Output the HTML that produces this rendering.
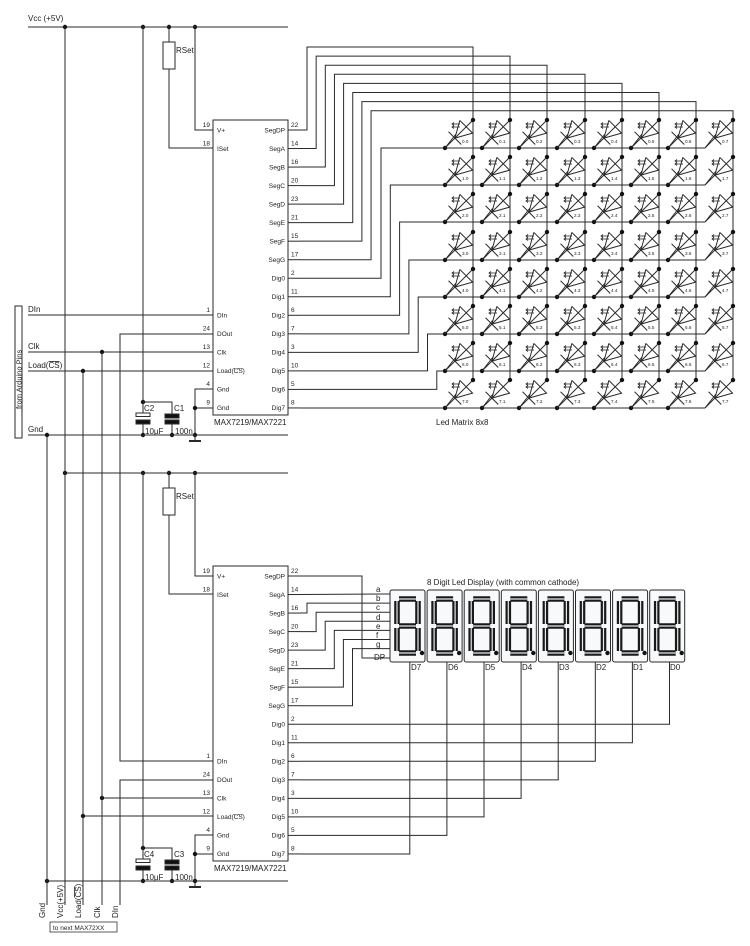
<!DOCTYPE html>
<html><head><meta charset="utf-8"><style>
html,body{margin:0;padding:0;background:#fff}
svg{display:block}
text{font-family:"Liberation Sans",sans-serif;fill:#222}
.s{font-size:6.5px}.m{font-size:8px}.t{font-size:4.6px}
</style></head><body>
<svg id="s" width="750" height="946" viewBox="0 0 750 946">
<rect width="750" height="946" fill="#fff"/>
<g id="geo" stroke="#2a2a2a" stroke-width="1" fill="none"></g>

<text class="m" x="28" y="21">Vcc (+5V)</text>
<text class="m" x="28" y="312">DIn</text>
<text class="m" x="28" y="349">Clk</text>
<text class="m" x="28" y="368">Load(<tspan text-decoration="overline">CS</tspan>)</text>
<text class="m" x="28" y="432">Gnd</text>
<text style="font-size:7.5px" transform="translate(21.5,409) rotate(-90)">from Arduino Pins</text>

<g id="chip">
<text class="m" x="176" y="53">RSet</text>
<g class="s">
<text x="217" y="132.5">V+</text><text x="217" y="151">ISet</text><text x="217" y="317.5">DIn</text><text x="217" y="336">DOut</text><text x="217" y="354.5">Clk</text><text x="217" y="373">Load(<tspan text-decoration="overline">CS</tspan>)</text><text x="217" y="391.5">Gnd</text><text x="217" y="410">Gnd</text>
<g text-anchor="end">
<text x="210" y="127">19</text><text x="210" y="145.5">18</text><text x="210" y="312">1</text><text x="210" y="330.5">24</text><text x="210" y="349">13</text><text x="210" y="367.5">12</text><text x="210" y="386">4</text><text x="210" y="404.5">9</text>
<text x="285" y="132.5">SegDP</text><text x="285" y="151">SegA</text><text x="285" y="169.5">SegB</text><text x="285" y="188">SegC</text><text x="285" y="206.5">SegD</text><text x="285" y="225">SegE</text><text x="285" y="243.5">SegF</text><text x="285" y="262">SegG</text><text x="285" y="280.5">Dig0</text><text x="285" y="299">Dig1</text><text x="285" y="317.5">Dig2</text><text x="285" y="336">Dig3</text><text x="285" y="354.5">Dig4</text><text x="285" y="373">Dig5</text><text x="285" y="391.5">Dig6</text><text x="285" y="410">Dig7</text>
</g>
<text x="291" y="127">22</text><text x="291" y="145.5">14</text><text x="291" y="164">16</text><text x="291" y="182.5">20</text><text x="291" y="201">23</text><text x="291" y="219.5">21</text><text x="291" y="238">15</text><text x="291" y="256.5">17</text><text x="291" y="275">2</text><text x="291" y="293.5">11</text><text x="291" y="312">6</text><text x="291" y="330.5">7</text><text x="291" y="349">3</text><text x="291" y="367.5">10</text><text x="291" y="386">5</text><text x="291" y="404.5">8</text>
</g>
<text class="m" x="214" y="425">MAX7219/MAX7221</text>
<text class="m" x="175" y="434">100n</text>
<text class="m" x="145" y="434">10µF</text>
</g>
<text class="m" x="144" y="411">C2</text><text class="m" x="174" y="411">C1</text>
<g transform="translate(0,446)">
<text class="m" x="176" y="53">RSet</text>
<g class="s">
<text x="217" y="132.5">V+</text><text x="217" y="151">ISet</text><text x="217" y="317.5">DIn</text><text x="217" y="336">DOut</text><text x="217" y="354.5">Clk</text><text x="217" y="373">Load(<tspan text-decoration="overline">CS</tspan>)</text><text x="217" y="391.5">Gnd</text><text x="217" y="410">Gnd</text>
<g text-anchor="end">
<text x="210" y="127">19</text><text x="210" y="145.5">18</text><text x="210" y="312">1</text><text x="210" y="330.5">24</text><text x="210" y="349">13</text><text x="210" y="367.5">12</text><text x="210" y="386">4</text><text x="210" y="404.5">9</text>
<text x="285" y="132.5">SegDP</text><text x="285" y="151">SegA</text><text x="285" y="169.5">SegB</text><text x="285" y="188">SegC</text><text x="285" y="206.5">SegD</text><text x="285" y="225">SegE</text><text x="285" y="243.5">SegF</text><text x="285" y="262">SegG</text><text x="285" y="280.5">Dig0</text><text x="285" y="299">Dig1</text><text x="285" y="317.5">Dig2</text><text x="285" y="336">Dig3</text><text x="285" y="354.5">Dig4</text><text x="285" y="373">Dig5</text><text x="285" y="391.5">Dig6</text><text x="285" y="410">Dig7</text>
</g>
<text x="291" y="127">22</text><text x="291" y="145.5">14</text><text x="291" y="164">16</text><text x="291" y="182.5">20</text><text x="291" y="201">23</text><text x="291" y="219.5">21</text><text x="291" y="238">15</text><text x="291" y="256.5">17</text><text x="291" y="275">2</text><text x="291" y="293.5">11</text><text x="291" y="312">6</text><text x="291" y="330.5">7</text><text x="291" y="349">3</text><text x="291" y="367.5">10</text><text x="291" y="386">5</text><text x="291" y="404.5">8</text>
</g>
<text class="m" x="214" y="425">MAX7219/MAX7221</text>
<text class="m" x="175" y="434">100n</text>
<text class="m" x="145" y="434">10µF</text>
<text class="m" x="144" y="411">C4</text><text class="m" x="174" y="411">C3</text>
</g>

<g class="m">
<text transform="translate(45,918) rotate(-90)">Gnd</text>
<text transform="translate(63,918) rotate(-90)">Vcc(+5V)</text>
<text transform="translate(81,918) rotate(-90)">Load(<tspan text-decoration="overline">CS</tspan>)</text>
<text transform="translate(100,918) rotate(-90)">Clk</text>
<text transform="translate(118,918) rotate(-90)">DIn</text>
</g>
<rect x="50" y="922" width="67" height="10" fill="none" stroke="#333" stroke-width="0.8"/>
<text class="s" x="53" y="930">to next MAX72XX</text>

<text class="m" x="436" y="425">Led Matrix 8x8</text>

<text class="m" x="427" y="585">8 Digit Led Display (with common cathode)</text>
<g class="m">
<text x="376" y="592">a</text><text x="376" y="601">b</text><text x="376" y="610">c</text><text x="376" y="620">d</text><text x="376" y="629">e</text><text x="376" y="638">f</text><text x="376" y="647">g</text><text x="374" y="660">DP</text>
<text x="411" y="670">D7</text><text x="448" y="670">D6</text><text x="485" y="670">D5</text><text x="522" y="670">D4</text><text x="559" y="670">D3</text><text x="596" y="670">D2</text><text x="633" y="670">D1</text><text x="670" y="670">D0</text>
</g>

<g class="t">
<g transform="translate(0,143)"><text x="462">0.0</text><text x="499">0.1</text><text x="536">0.2</text><text x="574">0.3</text><text x="611">0.4</text><text x="648">0.5</text><text x="685">0.6</text><text x="722">0.7</text></g>
<g transform="translate(0,180)"><text x="462">1.0</text><text x="499">1.1</text><text x="536">1.2</text><text x="574">1.3</text><text x="611">1.4</text><text x="648">1.5</text><text x="685">1.6</text><text x="722">1.7</text></g>
<g transform="translate(0,217)"><text x="462">2.0</text><text x="499">2.1</text><text x="536">2.2</text><text x="574">2.3</text><text x="611">2.4</text><text x="648">2.5</text><text x="685">2.6</text><text x="722">2.7</text></g>
<g transform="translate(0,255)"><text x="462">3.0</text><text x="499">3.1</text><text x="536">3.2</text><text x="574">3.3</text><text x="611">3.4</text><text x="648">3.5</text><text x="685">3.6</text><text x="722">3.7</text></g>
<g transform="translate(0,292)"><text x="462">4.0</text><text x="499">4.1</text><text x="536">4.2</text><text x="574">4.3</text><text x="611">4.4</text><text x="648">4.5</text><text x="685">4.6</text><text x="722">4.7</text></g>
<g transform="translate(0,329)"><text x="462">5.0</text><text x="499">5.1</text><text x="536">5.2</text><text x="574">5.3</text><text x="611">5.4</text><text x="648">5.5</text><text x="685">5.6</text><text x="722">5.7</text></g>
<g transform="translate(0,366)"><text x="462">6.0</text><text x="499">6.1</text><text x="536">6.2</text><text x="574">6.3</text><text x="611">6.4</text><text x="648">6.5</text><text x="685">6.6</text><text x="722">6.7</text></g>
<g transform="translate(0,403)"><text x="462">7.0</text><text x="499">7.1</text><text x="536">7.2</text><text x="574">7.3</text><text x="611">7.4</text><text x="648">7.5</text><text x="685">7.6</text><text x="722">7.7</text></g>
</g>
</svg>
<script>
var NS="http://www.w3.org/2000/svg",G=document.getElementById('geo');
function el(t,a){var e=document.createElementNS(NS,t);for(var k in a)e.setAttribute(k,a[k]);G.appendChild(e);return e;}
function L(p,extra){var a={points:p.map(function(q){return q[0]+','+q[1]}).join(' ')};for(var k in extra)a[k]=extra[k];return el('polyline',a);}
function D(x,y){el('circle',{cx:x,cy:y,r:2.2,fill:'#111',stroke:'none'});}
function py(i){return 130+18.53*i;}
for(var b=0;b<2;b++){var o=b*446;
 el('rect',{x:213,y:120+o,width:75,height:295});
 L([[195,27+o],[195,130+o],[213,130+o]]);D(195,27+o);
 L([[169,27+o],[169,42+o]]);el('rect',{x:163,y:42+o,width:12,height:27});
 L([[169,69+o],[169,148+o],[213,148+o]]);D(169,27+o);
 L([[143,402+o],[172,402+o],[172,414+o]]);D(143,402+o);D(143,27+o);
 L([[143,402+o],[143,413+o]]);
 el('rect',{x:136,y:413+o,width:14,height:3.5});
 el('rect',{x:136,y:420+o,width:14,height:4,fill:'#111'});
 el('rect',{x:165,y:414+o,width:14,height:4,fill:'#111'});
 el('rect',{x:165,y:420+o,width:14,height:4,fill:'#111'});
 L([[143,424+o],[143,435+o]]);L([[172,424+o],[172,435+o]]);
 D(143,435+o);D(172,435+o);
 L([[213,389+o],[195,389+o],[195,441+o]]);L([[195,408+o],[213,408+o]]);D(195,408+o);D(195,435+o);
 el('line',{x1:189,y1:441+o,x2:201,y2:441+o,'stroke-width':2});
 for(var i=0;i<16;i++)L([[288,py(i)+o],[300,py(i)+o]]);
}
L([[28,27],[288,27]]);L([[65,473],[288,473]]);D(65,27);D(65,473);
L([[28,435],[288,435]]);L([[47,881],[288,881]]);D(47,435);D(47,881);
L([[143,27],[143,402]]);L([[143,473],[143,848]]);
L([[28,315],[213,315]]);
L([[213,334],[120,334],[120,761],[213,761]]);
L([[28,352],[213,352]]);D(102,352);
L([[28,371],[213,371]]);D(83,371);
L([[213,780],[120,780],[120,905]]);
L([[102,798],[213,798]]);D(102,798);
L([[83,816],[213,816]]);D(83,816);
L([[47,435],[47,905]]);L([[65,27],[65,905]]);L([[83,371],[83,905]]);L([[102,352],[102,905]]);
el('rect',{x:15,y:306,width:7,height:132});
var cx=[473,510,547,585,622,659,696,733],ry=[148,185,222,260,297,334,371,408];
for(var i=0;i<8;i++){var y=py(i),xv=307+9.15*i,yt=47+9.1*i;
 L([[300,y],[xv,y],[xv,yt],[cx[i],yt],[cx[i],380]]);}
for(var j=0;j<8;j++){var y=py(8+j);
 if(j<7){var xv=381+9.3*j;L([[300,y],[xv,y],[xv,ry[j]],[705,ry[j]]]);}
 else L([[300,y],[705,y]]);}
for(var r=0;r<8;r++)for(var c=0;c<8;c++){
 var kx=cx[c]-28,ky=ry[r],ax=cx[c],ay=ry[r]-28;
 L([[kx,ky],[ax,ay]]);
 if(c<7)D(kx,ky);D(ax,ay);
 var ux=0.7071,uy=-0.7071,px=0.7071,pyy=0.7071;
 var m1x=kx+ux*14,m1y=ky+uy*14;
 var bx=kx+ux*30,by=ky+uy*30;
 L([[m1x-px*9,m1y-pyy*9],[m1x+px*9,m1y+pyy*9]]);
 L([[bx-px*9,by-pyy*9],[bx+px*9,by+pyy*9],[m1x,m1y],[bx-px*9,by-pyy*9]]);
 L([[kx,ky],[kx+11,ky-14]]);
 L([[kx+7,ky-24],[kx+15,ky-24]],{'stroke-width':0.8});L([[kx+7,ky-21],[kx+15,ky-21]],{'stroke-width':0.8});
 L([[kx+9,ky-25.5],[kx+7,ky-24],[kx+9,ky-22.5]],{'stroke-width':0.8});
 L([[kx+9,ky-22.5],[kx+7,ky-21],[kx+9,ky-19.5]],{'stroke-width':0.8});
}
var o=446;
L([[300,py(0)+o],[362,py(0)+o],[362,658],[390,658]]);
L([[300,py(1)+o],[390,594]]);
for(var k=2;k<8;k++){var y=py(k)+o,xv=307+9.1*(k-2),ty=594+9.1*(k-1);
 L([[300,y],[xv,y],[xv,ty],[390,ty]]);}
for(var j=0;j<8;j++){var y=py(8+j)+o,x=669.5-37.1*j;L([[300,y],[x,y],[x,662]]);}
for(var i=0;i<8;i++){var bx=390+37.1*i;
 el('rect',{x:bx,y:590,width:35,height:72,rx:2,fill:'#f7f9fb'});
 var Lx=bx+7,R=bx+28,T=599,M=626,B=653;
 var segs=[[Lx+2,T,R-2,T],[R,T+2,R,M-2],[R,M+2,R,B-2],[Lx+2,B,R-2,B],[Lx,M+2,Lx,B-2],[Lx,T+2,Lx,M-2],[Lx+2,M,R-2,M]];
 segs.forEach(function(s){el('line',{x1:s[0],y1:s[1],x2:s[2],y2:s[3],'stroke-width':5.6,stroke:'#1a1a1a'});
  el('line',{x1:s[0],y1:s[1],x2:s[2],y2:s[3],'stroke-width':1.2,stroke:'#e8eaec'});});
 el('circle',{cx:bx+32,cy:653,r:2.2,fill:'#111',stroke:'none'});
}
</script>
</body></html>
